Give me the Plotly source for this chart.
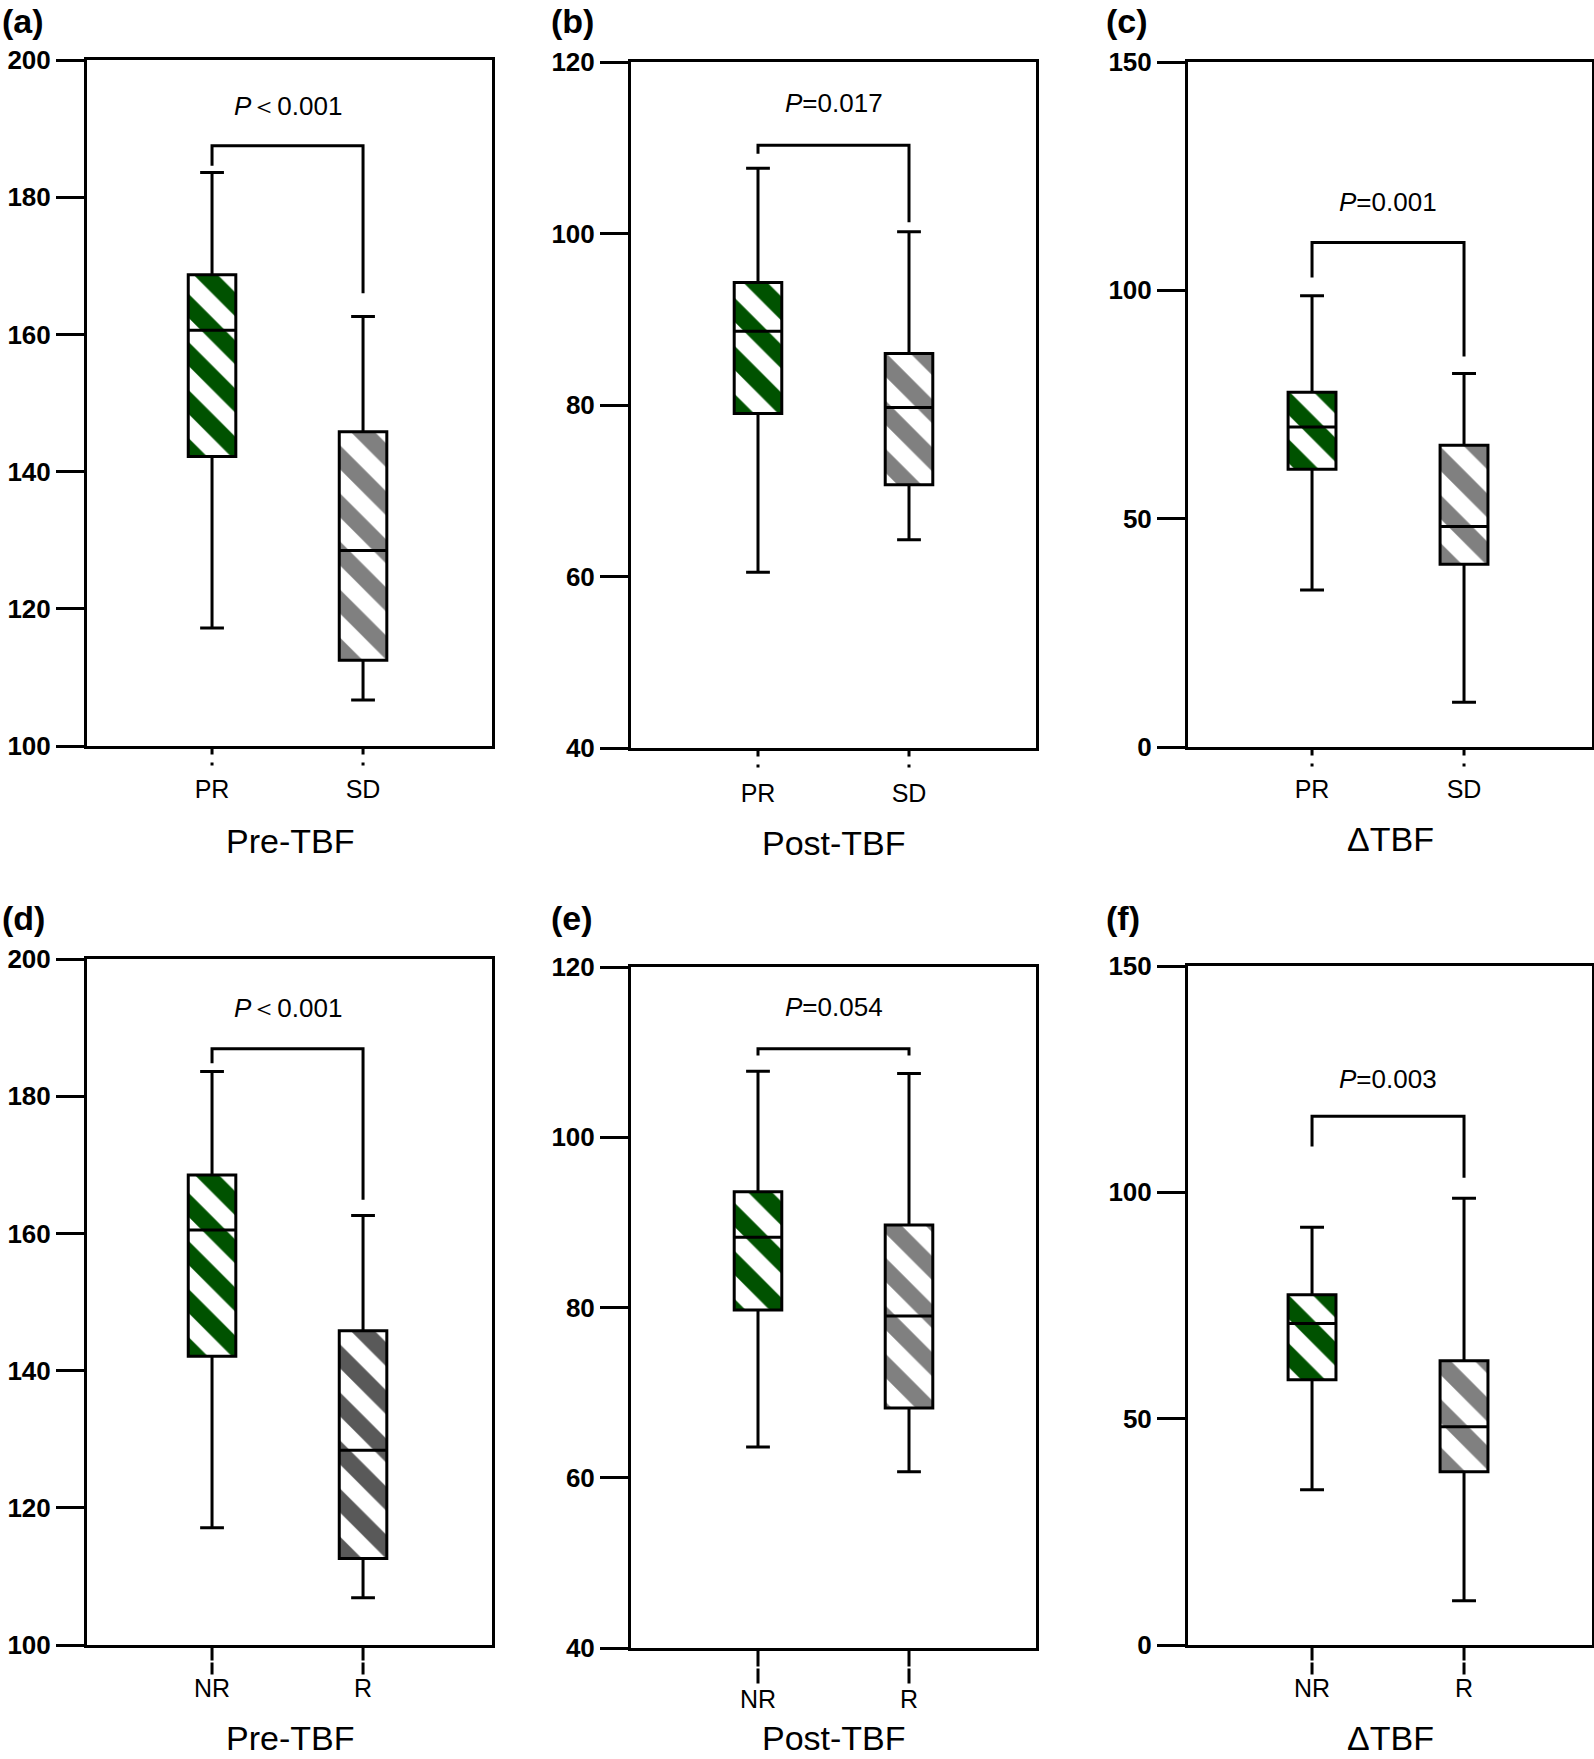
import plotly.graph_objects as go

# ---------------- data ----------------
categories_top = ["PR", "SD"]
categories_bottom = ["NR", "R"]
panel_letters = ["(a)", "(b)", "(c)", "(d)", "(e)", "(f)"]
axis_titles = ["Pre-TBF", "Post-TBF", "\u0394TBF", "Pre-TBF", "Post-TBF", "\u0394TBF"]
y_ranges = [[100, 200], [40, 120], [0, 150], [100, 200], [40, 120], [0, 150]]
y_ticks = [[100, 120, 140, 160, 180, 200], [40, 60, 80, 100, 120], [0, 50, 100, 150],
           [100, 120, 140, 160, 180, 200], [40, 60, 80, 100, 120], [0, 50, 100, 150]]

lower_whisker = [[117.2, 106.7], [60.5, 64.3], [34.4, 9.8], [117.1, 106.9], [63.6, 60.7], [34.3, 9.8]]
q1 = [[142.2, 112.5], [79.0, 70.7], [60.8, 40.0], [142.1, 112.6], [79.7, 68.2], [58.6, 38.3]]
median = [[160.6, 128.5], [88.6, 79.7], [70.1, 48.3], [160.5, 128.4], [88.25, 79.0], [71.0, 48.2]]
q3 = [[168.7, 145.8], [94.3, 86.0], [77.7, 66.1], [168.5, 145.8], [93.6, 89.7], [77.4, 62.8]]
upper_whisker = [[183.6, 162.6], [107.6, 100.2], [98.8, 81.8], [183.6, 162.6], [107.75, 107.5], [92.3, 98.7]]

p_text = ["<i>P</i>\uff1c0.001", "<i>P</i>=0.017", "<i>P</i>=0.001",
          "<i>P</i>\uff1c0.001", "<i>P</i>=0.054", "<i>P</i>=0.003"]
p_y = [193.3, 115.2, 119.4, 192.8, 115.3, 125.0]
bracket_top = [187.5, 110.3, 110.5, 186.9, 110.4, 116.8]
bracket_left_end = [184.6, 109.3, 102.8, 184.8, 109.6, 110.1]
bracket_right_end = [166.0, 101.3, 85.5, 164.9, 109.6, 103.2]

# ---------------- styling / layout geometry ----------------
W, H = 1594, 1759
GREEN = "#005200"
GRAY = "#808080"
DARK_GRAY = "#595959"
box_colors = [[GREEN, GRAY], [GREEN, GRAY], [GREEN, GRAY],
              [GREEN, DARK_GRAY], [GREEN, GRAY], [GREEN, GRAY]]
FONT = "Liberation Sans, Arial, sans-serif"

# pixel boxes (left, right, top, bottom)
px_boxes = [(87, 492, 60, 746), (631, 1036, 62, 748), (1188, 1592, 62, 747),
            (87, 492, 959, 1645), (631, 1036, 967, 1648), (1188, 1592, 966, 1645)]
x_ranges = [[-0.828, 1.854], [-0.841, 1.841], [-0.816, 1.842],
            [-0.828, 1.854], [-0.841, 1.841], [-0.816, 1.842]]
label_pos = [(0, 0), (549, 0), (1104, 0), (0, 897), (549, 897), (1104, 897)]
xlabel_off = [39, 41, 38, 39, 47, 39]
title_off = [97, 97, 94, 95, 92, 95]
tick_dash = ["7px,8px,3px", "7px,8px,3px", "7px,8px,3px",
             "14px,2px,12px", "17px,2px,15px", "14px,2px,12px"]
tick_len = [19, 19, 19, 28, 34, 28]
BOX_W = 0.315

fig = go.Figure()
annotations = []
shapes = []

for i in range(6):
    xa = "x" if i == 0 else f"x{i+1}"
    ya = "y" if i == 0 else f"y{i+1}"
    cats = categories_top if i < 3 else categories_bottom
    xs = [0, 1]
    heights = [q3[i][k] - q1[i][k] for k in range(2)]

    fig.add_trace(go.Bar(
        x=xs, y=heights, base=q1[i], width=BOX_W, xaxis=xa, yaxis=ya,
        marker=dict(color=box_colors[i], line=dict(color="black", width=0),
                    pattern=dict(shape="\\", fgcolor=box_colors[i], bgcolor="white",
                                 solidity=0.5, size=34, fillmode="replace")),
        showlegend=False, hoverinfo="skip"))

    fig.add_trace(go.Box(
        x=xs, q1=q1[i], median=median[i], q3=q3[i],
        lowerfence=lower_whisker[i], upperfence=upper_whisker[i],
        width=BOX_W, whiskerwidth=0.5, xaxis=xa, yaxis=ya,
        line=dict(color="black", width=3), fillcolor="rgba(0,0,0,0)",
        boxpoints=False, showlegend=False, hoverinfo="skip"))

    fig.add_trace(go.Scatter(
        x=[0, 0, 1, 1],
        y=[bracket_left_end[i], bracket_top[i], bracket_top[i], bracket_right_end[i]],
        mode="lines", line=dict(color="black", width=3),
        xaxis=xa, yaxis=ya, showlegend=False, hoverinfo="skip"))

    l, r, t, b = px_boxes[i]
    sfx = "" if i == 0 else str(i + 1)
    fig.update_layout(**{
        f"xaxis{sfx}": dict(domain=[l / W, r / W], range=x_ranges[i], anchor=ya,
                            showline=True, mirror=True, linewidth=3, linecolor="black",
                            showgrid=False, zeroline=False, ticks="", automargin=False,
                            tickvals=xs, ticktext=cats, ticklabelstandoff=xlabel_off[i] - 20,
                            tickfont=dict(family=FONT, size=25, color="black"),
                            fixedrange=True),
        f"yaxis{sfx}": dict(domain=[1 - b / H, 1 - t / H], range=y_ranges[i], anchor=xa,
                            showline=True, mirror=True, linewidth=3, linecolor="black",
                            showgrid=False, zeroline=False, ticks="outside", ticklen=28,
                            tickwidth=3, tickcolor="black", tickvals=y_ticks[i],
                            automargin=False,
                            tickfont=dict(family=FONT, size=26, color="black", weight="bold"),
                            fixedrange=True),
    })

    # dashed category ticks
    for xv in xs:
        shapes.append(dict(type="line", xref=xa, yref="paper", x0=xv, x1=xv,
                           y0=1 - (b + 1.5) / H, y1=1 - (b + 1.5 + tick_len[i]) / H,
                           line=dict(color="black", width=3, dash=tick_dash[i])))

    # p value
    annotations.append(dict(x=0.5, y=p_y[i], xref=xa, yref=ya, text=p_text[i],
                            showarrow=False, xanchor="center", yanchor="middle",
                            font=dict(family=FONT, size=26, color="black")))
    # axis title
    annotations.append(dict(x=0.5, y=0, xref=f"{xa} domain", yref=f"{ya} domain",
                            text=axis_titles[i], showarrow=False, xanchor="center",
                            yanchor="middle", yshift=-title_off[i] + 2,
                            font=dict(family=FONT, size=34, color="black")))
    # panel letter
    lx, ly = label_pos[i]
    annotations.append(dict(x=lx / W, y=1 - ly / H, xref="paper", yref="paper",
                            text=f"<b>{panel_letters[i]}</b>", showarrow=False,
                            xanchor="left", yanchor="top",
                            font=dict(family=FONT, size=34, color="black")))

fig.update_layout(width=W, height=H,
                  margin=dict(l=0, r=0, t=0, b=0, pad=0, autoexpand=False),
                  template="none",
                  paper_bgcolor="white", plot_bgcolor="white",
                  barmode="overlay", boxmode="overlay",
                  annotations=annotations, shapes=shapes)

fig.write_html("out.html", config={"displayModeBar": False},
               post_script="document.body.style.margin='0';document.body.style.overflow='hidden';")
